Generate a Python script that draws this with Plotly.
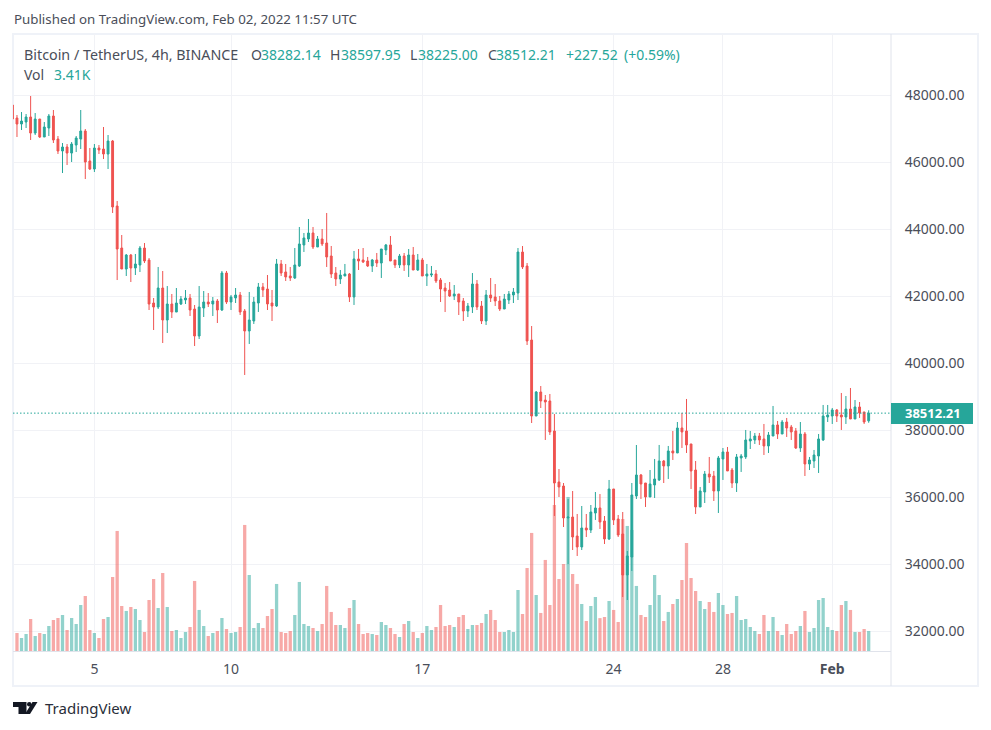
import pandas as pd
import plotly.graph_objects as go

# 4h candles, Jan 2 00:00 to Feb 2 08:00
times = pd.date_range('2022-01-02', periods=189, freq='4h')

opens = [47710, 47322, 47143, 47203, 47352, 46874, 47292, 46755, 47024, 47382,
         46695, 46337, 46457, 46277, 46516, 46695, 46934, 46039, 45800, 46427,
         46397, 46248, 46636, 44695, 43442, 42815, 43233, 42845, 42934, 43442,
         43083, 41800, 41680, 42248, 41293, 41770, 41531, 41770, 41890, 41949,
         41621, 40815, 41651, 41830, 41770, 41860, 41591, 42696, 41830, 41950,
         42039, 41562, 40965, 41263, 41800, 42278, 42218, 41800, 41711, 42965,
         42726, 42606, 42547, 42905, 43532, 43711, 43890, 43472, 43711, 43591,
         43203, 42696, 42517, 42606, 42666, 41980, 43114, 43084, 43054, 42905,
         43084, 42994, 43383, 43532, 43084, 42935, 43203, 42935, 43233, 42785,
         43084, 42606, 42636, 42666, 42487, 42248, 42188, 42009, 42069, 41860,
         41561, 41681, 42367, 41710, 41263, 42039, 41979, 41860, 41621, 41889,
         42039, 42098, 43322, 42904, 40695, 38427, 39143, 38904, 38875, 37979,
         36457, 36337, 35382, 35412, 34845, 34517, 35084, 35024, 35531, 35681,
         35293, 34755, 36248, 35352, 34905, 33681, 34218, 36039, 36666, 36427,
         36010, 36368, 36517, 37084, 36935, 37383, 37323, 38069, 37980, 37592,
         36815, 35711, 36159, 36696, 36636, 36189, 37144, 37353, 36815, 36427,
         37174, 37204, 37681, 37711, 37830, 37741, 37532, 37830, 38159, 37890,
         38248, 38099, 37980, 37472, 37890, 36995, 37084, 37233, 37711, 38398,
         38427, 38607, 38457, 38398, 38636, 38338, 38696, 38547, 38282.14]
highs = [47710, 47412, 47501, 47442, 47979, 47471, 47292, 47203, 47442, 47561,
         46785, 46576, 46546, 46606, 46785, 47561, 46994, 46427, 46546, 46516,
         47054, 46815, 46666, 44845, 43830, 43263, 43263, 43263, 43501, 43591,
         43143, 41949, 42875, 42755, 42307, 42069, 42248, 42009, 42188, 42069,
         41740, 42307, 42158, 42098, 41979, 41919, 42756, 42756, 42039, 42248,
         42129, 41621, 42129, 41980, 42398, 42398, 42636, 42189, 43114, 43084,
         42965, 42875, 43442, 44069, 43890, 44308, 44069, 43800, 44009, 44487,
         43502, 42875, 42785, 42965, 42696, 43353, 43412, 43442, 43174, 43114,
         43293, 43412, 43562, 43800, 43084, 43263, 43293, 43412, 43472, 43263,
         43144, 42965, 42905, 42785, 42546, 42397, 42427, 42337, 42069, 41949,
         41800, 42695, 42487, 41860, 42188, 42546, 42367, 42009, 42069, 42158,
         42248, 43442, 43501, 42994, 41113, 39173, 39322, 39054, 39084, 38487,
         36845, 36427, 35949, 36188, 35502, 35740, 35502, 35770, 36158, 36098,
         35442, 36517, 36248, 35472, 35561, 34397, 36427, 37561, 36696, 36427,
         36815, 37144, 37562, 37114, 37532, 37980, 38248, 38517, 38935, 37592,
         37084, 36308, 36786, 37204, 36786, 37233, 37472, 37502, 36875, 37293,
         37293, 38010, 37980, 37920, 37920, 38189, 37950, 38726, 38278, 38308,
         38368, 38159, 38069, 38248, 37950, 37204, 37413, 37890, 38756, 38756,
         38666, 38636, 39114, 39024, 39263, 38905, 38845, 38547, 38597.95]
lows = [47292, 46755, 46964, 47024, 46666, 46815, 46725, 46755, 46785, 46576,
        46248, 45680, 45919, 46009, 46307, 46397, 45501, 45770, 45710, 46248,
        46098, 45800, 44487, 42486, 42815, 42606, 42427, 42636, 42725, 42994,
        41591, 40994, 41621, 40606, 40905, 41352, 41531, 41740, 41770, 41412,
        40516, 40725, 41382, 41680, 41412, 41203, 41562, 41771, 41591, 41800,
        41442, 39651, 40577, 41174, 41532, 41980, 41591, 41263, 41681, 42606,
        42457, 42457, 42517, 42875, 43323, 43621, 43412, 43472, 43502, 42875,
        42547, 42308, 42368, 42606, 41830, 41741, 42785, 42994, 42875, 42726,
        42875, 42547, 43233, 43054, 42845, 42845, 42756, 42577, 42785, 42756,
        42606, 42308, 42577, 42397, 41830, 41531, 41979, 41889, 41442, 41263,
        41382, 41501, 41591, 41173, 41143, 41830, 41710, 41561, 41621, 41770,
        41800, 41889, 42815, 40546, 38218, 38427, 38666, 37711, 37860, 35442,
        36009, 35113, 34009, 34427, 34248, 34427, 34815, 34934, 35323, 35054,
        34606, 34725, 35173, 34815, 33024, 32934, 33800, 35949, 35950, 35711,
        36010, 35980, 36487, 36427, 36547, 37114, 37323, 37472, 37323, 36248,
        35502, 35711, 35830, 36427, 35890, 35532, 36517, 36786, 36278, 36159,
        36756, 37144, 37442, 37592, 37562, 37263, 37323, 37830, 37741, 37890,
        37801, 37711, 37442, 37353, 36636, 36815, 36875, 36726, 37681, 38248,
        38189, 38248, 38010, 38189, 38338, 38338, 38368, 38189, 38225.00]
closes = [47292, 47143, 47233, 47352, 46874, 47292, 46755, 47054, 47382, 46666,
          46337, 46457, 46277, 46546, 46725, 46934, 46009, 45800, 46427, 46367,
          46248, 46636, 44666, 43412, 42815, 43233, 42845, 42964, 43442, 43054,
          41770, 41680, 42248, 41293, 41770, 41531, 41800, 41919, 41949, 41591,
          40815, 41680, 41830, 41770, 41860, 41591, 42696, 41830, 41980, 42039,
          41532, 40965, 41293, 41830, 42278, 42189, 41771, 41711, 42965, 42696,
          42577, 42547, 42935, 43562, 43741, 43890, 43472, 43711, 43562, 43174,
          42666, 42517, 42636, 42666, 41980, 43114, 43054, 43024, 42905, 43084,
          42994, 43412, 43532, 43054, 42935, 43203, 42935, 43233, 42785, 43084,
          42606, 42666, 42666, 42457, 42218, 42158, 42009, 42069, 41830, 41561,
          41710, 42367, 41681, 41263, 42039, 41949, 41860, 41621, 41919, 42069,
          42128, 43322, 42875, 40666, 38427, 39143, 38875, 38845, 37949, 36427,
          36308, 35382, 35412, 34815, 34517, 35084, 35024, 35561, 35681, 35263,
          34755, 36248, 35323, 34875, 33681, 34248, 36069, 36666, 36398, 36010,
          36398, 36547, 37084, 36935, 37383, 37323, 38069, 37950, 37562, 36786,
          35711, 36189, 36696, 36606, 36189, 37174, 37353, 36786, 36427, 37204,
          37233, 37711, 37741, 37830, 37711, 37532, 37860, 38159, 37890, 38248,
          38069, 37950, 37472, 37890, 36995, 37114, 37263, 37741, 38427, 38457,
          38607, 38427, 38398, 38636, 38338, 38696, 38517, 38248, 38512.21]
# volume in thousands
volumes = [0, 3.07, 2.22, 2.90, 5.45, 2.56, 3.07, 2.90, 4.26, 5.28,
           5.62, 6.13, 3.58, 5.62, 4.60, 7.84, 9.37, 3.58, 3.07, 2.22,
           5.45, 5.79, 12.61, 20.45, 7.67, 6.82, 7.50, 7.16, 5.28, 3.24,
           8.69, 12.27, 7.33, 13.29, 7.50, 3.41, 3.58, 2.22, 3.24, 4.09,
           11.93, 6.99, 4.26, 2.56, 3.07, 3.41, 5.62, 3.75, 3.07, 3.24,
           4.09, 21.47, 12.95, 3.92, 4.77, 3.92, 5.96, 7.16, 11.42, 3.24,
           3.07, 3.41, 6.13, 11.76, 4.60, 4.26, 3.92, 3.41, 4.60, 11.08,
           6.65, 4.43, 4.43, 3.92, 7.33, 8.69, 4.60, 2.90, 3.07, 2.90,
           2.73, 4.94, 4.43, 3.92, 2.90, 2.39, 4.60, 5.11, 3.24, 2.22,
           3.07, 4.26, 3.58, 4.09, 7.84, 4.26, 4.43, 4.09, 5.79, 6.13,
           3.75, 4.43, 4.43, 4.77, 6.30, 6.99, 5.28, 3.24, 3.24, 3.58,
           3.24, 10.39, 6.30, 14.14, 20.11, 9.54, 6.48, 15.51, 7.84, 24.88,
           12.27, 14.82, 26.24, 13.12, 11.42, 8.01, 5.11, 7.67, 9.20, 5.60,
           5.79, 8.52, 6.99, 4.94, 22.49, 21.30, 20.62, 11.08, 6.13, 5.79,
           7.84, 12.95, 9.54, 5.11, 6.65, 8.01, 8.86, 12.10, 18.40, 12.44,
           10.22, 8.52, 7.16, 8.35, 6.65, 9.88, 7.84, 6.30, 6.48, 9.37,
           5.28, 5.45, 4.09, 3.41, 2.90, 6.13, 3.41, 5.79, 3.41, 2.73,
           4.60, 2.90, 3.41, 4.26, 6.82, 3.24, 3.92, 8.69, 9.03, 4.09,
           3.58, 3.41, 7.84, 8.52, 6.99, 3.24, 3.24, 3.75, 3.41]

price_ticks = [32000, 34000, 36000, 38000, 40000, 42000, 44000, 46000, 48000]
date_ticks = ['2022-01-05', '2022-01-10', '2022-01-17', '2022-01-24', '2022-01-28', '2022-02-01']
date_labels = ['5', '10', '17', '24', '28', '<b>Feb</b>']
last_price = 38512.21

W, H = 991, 730
UP = '#26a69a'
DOWN = '#ef5350'
GRID = '#f1f2f6'
TEXT = '#4a4e59'
FONT = 'Noto Sans'


# layout helpers, pixels to paper
def px(x):
    return x / W


def py(y):
    return 1 - y / H


bar_colors = ['rgba(38,166,154,0.5)' if c >= o else 'rgba(239,83,80,0.5)'
              for o, c in zip(opens, closes)]

fig = go.Figure()
fig.add_trace(go.Bar(x=times, y=volumes, marker=dict(color=bar_colors, line_width=0),
                     yaxis='y', hoverinfo='skip'))
fig.add_trace(go.Candlestick(x=times, open=opens, high=highs, low=lows, close=closes, yaxis='y2',
                             increasing=dict(line=dict(color=UP, width=1), fillcolor=UP),
                             decreasing=dict(line=dict(color=DOWN, width=1), fillcolor=DOWN),
                             whiskerwidth=0))

fig.update_layout(
    width=W, height=H, autosize=False, showlegend=False,
    margin=dict(l=0, r=0, t=0, b=0),
    paper_bgcolor='white', plot_bgcolor='white',
    font=dict(family=FONT, size=13, color=TEXT),
    bargap=0.28, boxgap=0.42,
    xaxis=dict(domain=[px(13), px(891)], type='date',
               range=['2022-01-02 00:31', '2022-02-03 03:36'],
               rangeslider=dict(visible=False),
               tickmode='array', tickvals=date_ticks, ticktext=date_labels,
               showgrid=True, gridcolor=GRID, gridwidth=1, zeroline=False,
               showline=True, linecolor='#e0e3eb', linewidth=1,
               ticks='outside', ticklen=5, tickcolor='rgba(0,0,0,0)',
               tickfont=dict(family=FONT, size=14, color=TEXT)),
    yaxis=dict(domain=[py(651), py(34)], range=[0, 105.1], visible=False, fixedrange=True),
    yaxis2=dict(domain=[py(651), py(34)], range=[31412, 49830], overlaying='y',
                anchor='x', side='right',
                tickmode='array', tickvals=price_ticks, tickformat='.2f',
                showgrid=True, gridcolor=GRID, gridwidth=1, zeroline=False,
                showline=False, ticks='outside', ticklen=10, tickcolor='rgba(0,0,0,0)',
                tickfont=dict(family=FONT, size=14, color=TEXT)),
)

# frame of the widget
fig.add_shape(type='rect', xref='paper', yref='paper', x0=px(13), x1=px(978), y0=py(686), y1=py(34),
              line=dict(color='#eff2f8', width=2), layer='below')
fig.add_shape(type='line', xref='paper', yref='paper', x0=px(891), x1=px(891), y0=py(686), y1=py(34),
              line=dict(color='#e0e3eb', width=1))

# last price line and tag
fig.add_shape(type='line', xref='paper', yref='y2', x0=px(13), x1=px(891), y0=last_price, y1=last_price,
              line=dict(color=UP, width=1, dash='1.5px,2px'))
fig.add_shape(type='rect', xref='paper', yref='paper', x0=px(891), x1=px(973), y0=py(424), y1=py(403),
              fillcolor=UP, line_width=0)
fig.add_annotation(xref='paper', yref='y2', x=px(904), y=last_price, xanchor='left', yanchor='middle',
                   text='<b>38512.21</b>', showarrow=False, borderpad=0,
                   font=dict(family=FONT, size=13, color='white'))


def label(x, y, text, color=TEXT, size=14):
    fig.add_annotation(xref='paper', yref='paper', x=px(x), y=py(y), xanchor='left', yanchor='middle',
                       text=text, showarrow=False, borderpad=0, font=dict(family=FONT, size=size, color=color))


label(13, 19, 'Published on TradingView.com, Feb 02, 2022 11:57 UTC', size=13.3)
label(23, 54, 'Bitcoin / TetherUS, 4h, BINANCE', size=14.3)
label(250, 54, 'O')
label(260, 54, '38282.14', UP)
label(329, 54, 'H')
label(340, 54, '38597.95', UP)
label(409, 54, 'L')
label(417, 54, '38225.00', UP)
label(487, 54, 'C')
label(495, 54, '38512.21', UP)
label(565, 54, '+227.52', UP)
label(623, 54, '(+0.59%)', UP)
label(23, 74, 'Vol')
label(53, 74, '3.41K', UP)
label(44, 708, 'TradingView', '#2a2e39', 15)

# logo
logo = '#131722'
fig.add_shape(type='path', xref='paper', yref='paper', fillcolor=logo, line_width=0,
              path=f'M {px(13)} {py(702)} L {px(26.5)} {py(702)} L {px(26.5)} {py(714)} L {px(18.5)} {py(714)} '
                   f'L {px(18.5)} {py(707)} L {px(13)} {py(707)} Z')
fig.add_shape(type='path', xref='paper', yref='paper', fillcolor=logo, line_width=0,
              path=f'M {px(32.5)} {py(702)} L {px(37.5)} {py(702)} L {px(30)} {py(714)} L {px(25)} {py(714)} Z')
fig.add_shape(type='circle', xref='paper', yref='paper', fillcolor=logo, line_width=0,
              x0=px(27), x1=px(31.5), y0=py(706.5), y1=py(702))

fig.write_html("out.html", config={'displayModeBar': False}, post_script="document.body.style.margin='0';")
